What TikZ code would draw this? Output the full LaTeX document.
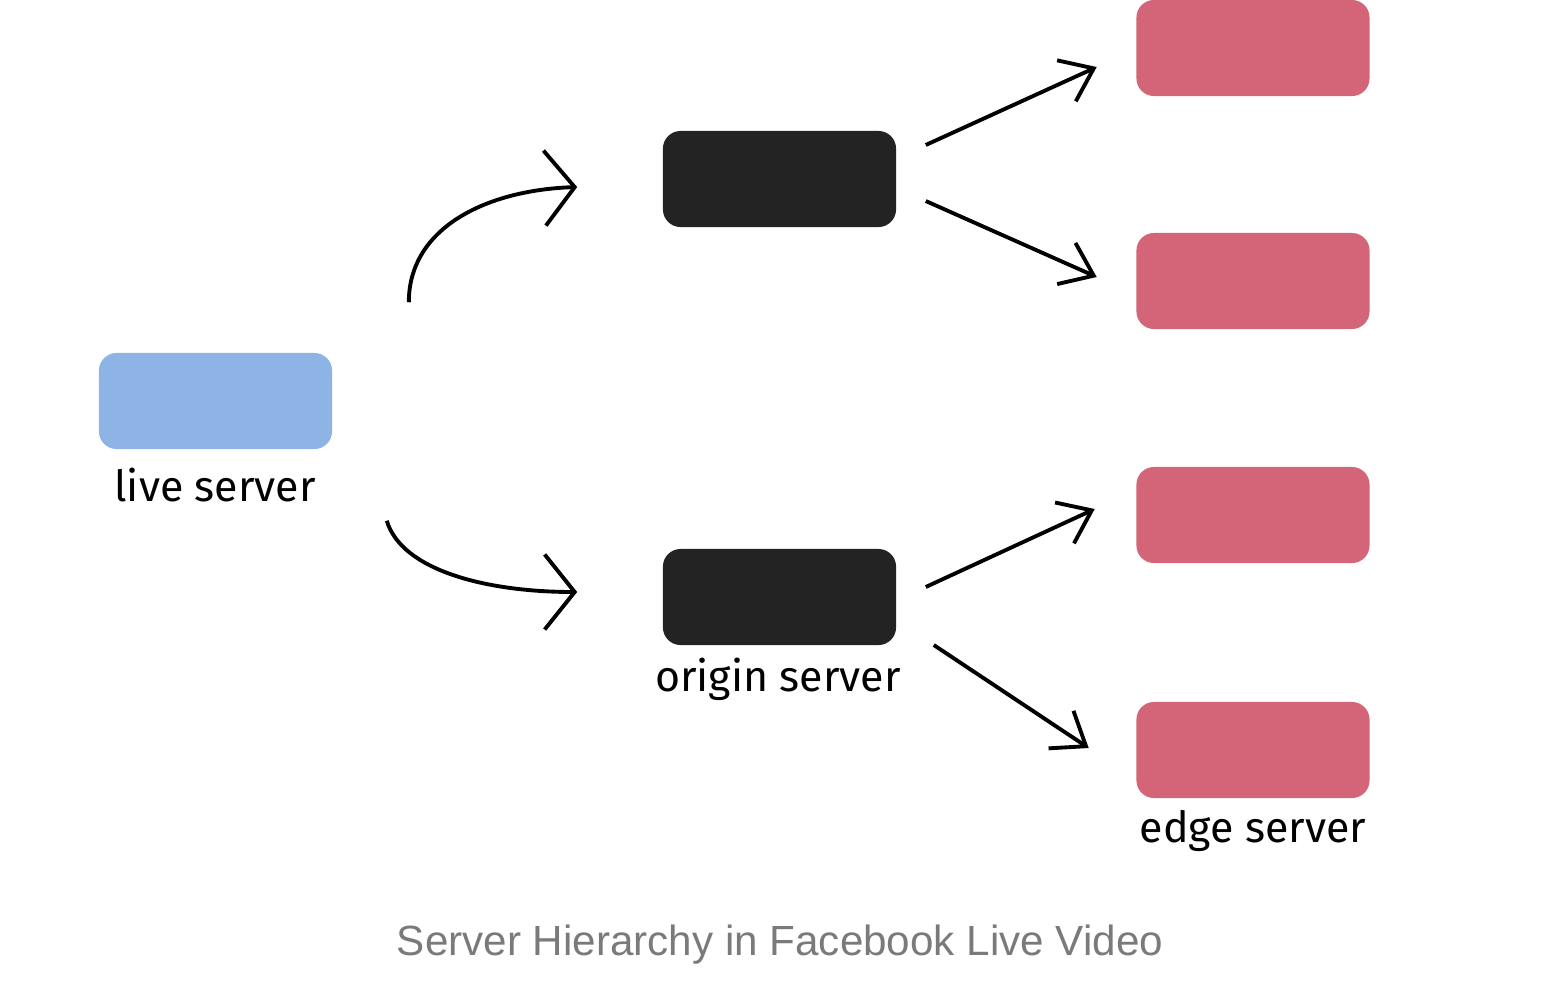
\documentclass[tikz,border=0pt]{standalone}
\usepackage{fontspec}
\setmainfont{Liberation Sans}
\newfontfamily\handfont{Fira Sans}
\usepackage{xcolor}
\usetikzlibrary{arrows.meta,positioning}
\definecolor{liveblue}{HTML}{8DB4E5}
\definecolor{origindark}{HTML}{232323}
\definecolor{edgepink}{HTML}{D46478}
\definecolor{captiongray}{HTML}{7A7A7A}

\begin{document}
\begin{tikzpicture}[
  x=0.01cm, y=-0.01cm,
  box/.style={rectangle, rounded corners=5pt, minimum height=0.96cm,
    minimum width=2.33cm, inner sep=0pt},
  lbl/.style={font=\handfont\fontsize{12.2}{14}\selectfont, inner sep=0pt},
  flow/.style={line width=1.1pt, black},
  curvetip/.style={-{Straight Barb[length=3mm, width=7.5mm]}},
  fantip/.style={-{Straight Barb[length=3mm, width=4.5mm]}},
]
  \useasboundingbox (0,0) rectangle (1562,984);

  % servers
  \node[box, fill=liveblue] (live) at (215.5,401) {};
  \node[box, fill=origindark] (origA) at (779.5,179) {};
  \node[box, fill=origindark] (origB) at (779.5,597) {};
  \node[box, fill=edgepink] (edgeA) at (1253,48) {};
  \node[box, fill=edgepink] (edgeB) at (1253,281) {};
  \node[box, fill=edgepink] (edgeC) at (1253,515) {};
  \node[box, fill=edgepink] (edgeD) at (1253,750) {};

  % labels
  \node[lbl] (livelbl) at (215,485) {live server};
  \node[lbl] (originlbl) at (778,679) {origin server};
  \node[lbl] (edgelbl) at (1253,831) {edge server};

  % live -> origin
  \draw[flow, curvetip] ([xshift=0.76cm, yshift=0.5cm]live.north east)
    .. controls +(0,-75) and +(-90,3) .. ([xshift=-0.85cm, yshift=-0.08cm]origA.west);
  \draw[flow, curvetip] ([xshift=0.54cm, yshift=-0.71cm]live.south east)
    .. controls +(15,50) and +(-90,0) .. ([xshift=-0.85cm, yshift=0.05cm]origB.west);

  % origin -> edge
  \draw[flow, fantip] ([xshift=0.29cm, yshift=0.34cm]origA.east) -- ([xshift=-0.39cm, yshift=-0.19cm]edgeA.west);
  \draw[flow, fantip] ([xshift=0.29cm, yshift=-0.22cm]origA.east) -- ([xshift=-0.39cm, yshift=0.04cm]edgeB.west);
  \draw[flow, fantip] ([xshift=0.29cm, yshift=0.1cm]origB.east) -- ([xshift=-0.41cm, yshift=0.06cm]edgeC.west);
  \draw[flow, fantip] ([xshift=0.37cm, yshift=-0.48cm]origB.east) -- ([xshift=-0.47cm, yshift=0.02cm]edgeD.west);

  \node[font=\fontsize{12}{14}\selectfont, text=captiongray] (caption) at (780,945)
    {Server Hierarchy in Facebook Live Video};
\end{tikzpicture}
\end{document}
